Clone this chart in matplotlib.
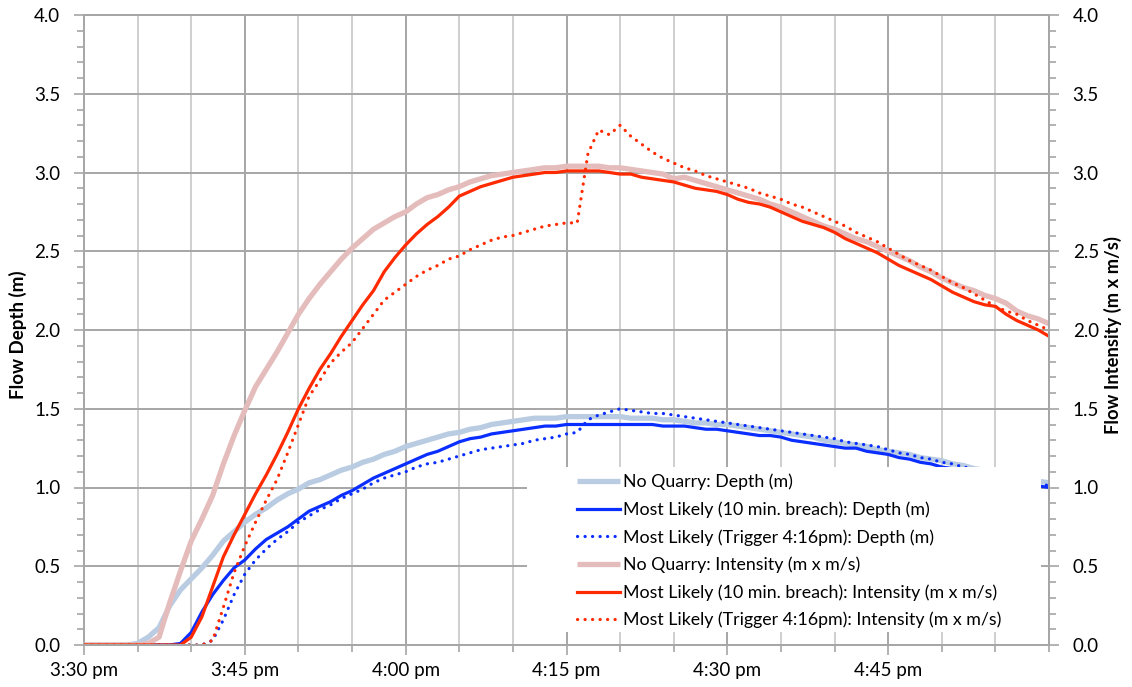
import matplotlib
matplotlib.use("Agg")
import matplotlib.pyplot as plt
from matplotlib.patches import Rectangle
from matplotlib.ticker import MultipleLocator, FixedLocator, FixedFormatter
import numpy as np

plt.rcParams['font.family'] = ['Lato', 'DejaVu Sans']

# minutes after 3:30 pm
minutes = list(range(0, 91))

nq_depth = [0, 0, 0, 0, 0, 0.01, 0.05, 0.11, 0.25, 0.35,
            0.42, 0.49, 0.57, 0.66, 0.72, 0.78, 0.83, 0.87, 0.92, 0.96,
            0.99, 1.03, 1.05, 1.08, 1.11, 1.13, 1.16, 1.18, 1.21, 1.23,
            1.26, 1.28, 1.30, 1.32, 1.34, 1.35, 1.37, 1.38, 1.40, 1.41,
            1.42, 1.43, 1.44, 1.44, 1.44, 1.45, 1.45, 1.45, 1.45, 1.45,
            1.45, 1.44, 1.44, 1.44, 1.43, 1.43, 1.42, 1.41, 1.41, 1.40,
            1.40, 1.39, 1.38, 1.37, 1.36, 1.35, 1.34, 1.33, 1.32, 1.30,
            1.29, 1.28, 1.27, 1.26, 1.24, 1.23, 1.22, 1.21, 1.19, 1.18,
            1.17, 1.15, 1.14, 1.12, 1.11, 1.10, 1.08, 1.07, 1.05, 1.04, 1.03]

ml10_depth = [0, 0, 0, 0, 0, 0, 0, 0, 0, 0.01,
              0.08, 0.21, 0.32, 0.41, 0.49, 0.54, 0.61, 0.67, 0.71, 0.75,
              0.80, 0.85, 0.88, 0.91, 0.95, 0.98, 1.02, 1.06, 1.09, 1.12,
              1.15, 1.18, 1.21, 1.23, 1.26, 1.29, 1.31, 1.32, 1.34, 1.35,
              1.36, 1.37, 1.38, 1.39, 1.39, 1.40, 1.40, 1.40, 1.40, 1.40,
              1.40, 1.40, 1.40, 1.40, 1.39, 1.39, 1.39, 1.38, 1.37, 1.37,
              1.36, 1.35, 1.34, 1.33, 1.33, 1.32, 1.30, 1.29, 1.28, 1.27,
              1.26, 1.25, 1.25, 1.23, 1.22, 1.21, 1.19, 1.18, 1.16, 1.15,
              1.13, 1.12, 1.11, 1.10, 1.08, 1.07, 1.06, 1.04, 1.03, 1.01, 1.00]

trig_depth = [0, 0, 0, 0, 0, 0, 0, 0, 0, 0,
              0, 0, 0.03, 0.16, 0.32, 0.45, 0.54, 0.61, 0.67, 0.72,
              0.78, 0.82, 0.86, 0.89, 0.93, 0.96, 0.99, 1.03, 1.06, 1.08,
              1.10, 1.13, 1.15, 1.16, 1.18, 1.20, 1.22, 1.24, 1.25, 1.26,
              1.27, 1.28, 1.30, 1.31, 1.32, 1.34, 1.35, 1.43, 1.46, 1.48,
              1.50, 1.49, 1.48, 1.47, 1.47, 1.46, 1.45, 1.44, 1.43, 1.42,
              1.41, 1.40, 1.39, 1.38, 1.37, 1.36, 1.35, 1.34, 1.33, 1.32,
              1.31, 1.29, 1.28, 1.27, 1.26, 1.24, 1.22, 1.21, 1.19, 1.18,
              1.16, 1.15, 1.13, 1.12, 1.11, 1.09, 1.07, 1.06, 1.04, 1.03, 1.01]

nq_int = [0, 0, 0, 0, 0, 0, 0.01, 0.05, 0.27, 0.47,
          0.66, 0.80, 0.95, 1.15, 1.33, 1.49, 1.64, 1.75, 1.86, 1.98,
          2.10, 2.20, 2.29, 2.37, 2.45, 2.52, 2.58, 2.64, 2.68, 2.72,
          2.75, 2.80, 2.84, 2.86, 2.89, 2.91, 2.94, 2.96, 2.98, 2.99,
          3.00, 3.01, 3.02, 3.03, 3.03, 3.04, 3.04, 3.04, 3.04, 3.03,
          3.03, 3.02, 3.01, 3.00, 2.99, 2.96, 2.97, 2.95, 2.93, 2.91,
          2.89, 2.87, 2.85, 2.83, 2.80, 2.78, 2.75, 2.72, 2.69, 2.66,
          2.64, 2.61, 2.58, 2.56, 2.53, 2.50, 2.47, 2.44, 2.40, 2.37,
          2.33, 2.30, 2.27, 2.25, 2.22, 2.20, 2.17, 2.12, 2.09, 2.07, 2.04]

ml10_int = [0, 0, 0, 0, 0, 0, 0, 0, 0, 0,
            0.05, 0.18, 0.37, 0.56, 0.70, 0.83, 0.96, 1.08, 1.21, 1.35,
            1.50, 1.63, 1.75, 1.85, 1.96, 2.06, 2.16, 2.25, 2.37, 2.46,
            2.54, 2.61, 2.67, 2.72, 2.78, 2.85, 2.88, 2.91, 2.93, 2.95,
            2.97, 2.98, 2.99, 3.00, 3.00, 3.01, 3.01, 3.01, 3.01, 3.00,
            2.99, 2.99, 2.97, 2.96, 2.95, 2.94, 2.92, 2.90, 2.89, 2.88,
            2.86, 2.83, 2.81, 2.80, 2.78, 2.75, 2.72, 2.69, 2.67, 2.65,
            2.62, 2.58, 2.55, 2.52, 2.49, 2.45, 2.41, 2.38, 2.35, 2.32,
            2.28, 2.24, 2.21, 2.18, 2.16, 2.15, 2.10, 2.06, 2.03, 2.00, 1.96]

trig_int = [0, 0, 0, 0, 0, 0, 0, 0, 0, 0,
            0, 0, 0.03, 0.24, 0.46, 0.63, 0.78, 0.92, 1.05, 1.22,
            1.40, 1.58, 1.68, 1.79, 1.86, 1.92, 2.01, 2.10, 2.19, 2.24,
            2.29, 2.34, 2.38, 2.41, 2.45, 2.47, 2.51, 2.54, 2.57, 2.59,
            2.60, 2.62, 2.64, 2.66, 2.67, 2.68, 2.68, 3.12, 3.27, 3.24,
            3.30, 3.23, 3.18, 3.13, 3.09, 3.06, 3.03, 3.01, 2.98, 2.96,
            2.94, 2.92, 2.90, 2.87, 2.85, 2.83, 2.80, 2.78, 2.75, 2.72,
            2.69, 2.66, 2.62, 2.59, 2.56, 2.52, 2.48, 2.44, 2.41, 2.38,
            2.34, 2.30, 2.27, 2.23, 2.19, 2.15, 2.12, 2.10, 2.06, 2.03, 2.00]

x_tick_minutes = [0, 15, 30, 45, 60, 75]
x_tick_labels = ["3:30 pm", "3:45 pm", "4:00 pm", "4:15 pm", "4:30 pm", "4:45 pm"]

labels = ["No Quarry: Depth (m)",
          "Most Likely (10 min. breach): Depth (m)",
          "Most Likely (Trigger 4:16pm): Depth (m)",
          "No Quarry: Intensity (m x m/s)",
          "Most Likely (10 min. breach): Intensity (m x m/s)",
          "Most Likely (Trigger 4:16pm): Intensity (m x m/s)"]

C_LBLUE = "#B9CCE2"
C_BLUE = "#0A2EFF"
C_PINK = "#E4BCBB"
C_RED = "#FF2A00"
GRID_MAJ = "#A6A6A6"
GRID_MIN = "#CFCFCF"
DOT = (0, (0.05, 2.3))

W, H = 1132, 687
fig = plt.figure(figsize=(W / 100, H / 100), dpi=100)
ax = fig.add_axes([84 / W, 1 - 645 / H, (1049 - 84) / W, (645 - 15) / H])
ax2 = ax.twinx()

ax.set_xlim(0, 90)
ax.set_ylim(0, 4)
ax2.set_ylim(0, 4)

# grid
for m in range(5, 90, 5):
    ax.axvline(m, color=GRID_MAJ if m % 15 == 0 else GRID_MIN, lw=1.4, zorder=0.5)
for v in np.arange(0.5, 4.0, 0.5):
    ax.axhline(v, color=GRID_MAJ, lw=1.4, zorder=0.5)

h1, = ax.plot(minutes, nq_depth, color=C_LBLUE, lw=3.8, solid_capstyle='butt', label=labels[0])
h2, = ax.plot(minutes, ml10_depth, color=C_BLUE, lw=2.3, label=labels[1])
h3, = ax.plot(minutes, trig_depth, color=C_BLUE, lw=2.3, linestyle=DOT,
              dash_capstyle='round', label=labels[2])
h4, = ax2.plot(minutes, nq_int, color=C_PINK, lw=3.8, solid_capstyle='butt', label=labels[3])
h5, = ax2.plot(minutes, ml10_int, color=C_RED, lw=2.3, label=labels[4])
h6, = ax2.plot(minutes, trig_int, color=C_RED, lw=2.3, linestyle=DOT,
               dash_capstyle='round', label=labels[5])

# ticks
ax.xaxis.set_major_locator(FixedLocator(x_tick_minutes))
ax.xaxis.set_major_formatter(FixedFormatter(x_tick_labels))
ax.xaxis.set_minor_locator(MultipleLocator(5))
for a in (ax, ax2):
    a.yaxis.set_major_locator(MultipleLocator(0.5))
    a.yaxis.set_minor_locator(MultipleLocator(0.1))
    a.yaxis.set_major_formatter(plt.FuncFormatter(lambda v, p: f"{v:.1f}"))
    a.tick_params(axis='y', which='major', length=7, width=1.2, color=GRID_MAJ,
                  labelsize=13.5, pad=10)
    a.tick_params(axis='y', which='minor', length=5, width=1.2, color=GRID_MAJ)
    for s in a.spines.values():
        s.set_color(GRID_MAJ)
        s.set_linewidth(1.4)
ax.tick_params(axis='x', which='major', length=7, width=1.2, color=GRID_MAJ,
               labelsize=13.5, pad=5)
ax.tick_params(axis='x', which='minor', length=5, width=1.2, color=GRID_MAJ)
ax2.spines['left'].set_visible(False)

fig.text(18 / W, 1 - 335 / H, "Flow Depth (m)", rotation=90, ha='center', va='center',
         fontsize=13.5, fontweight='bold')
fig.text(1113 / W, 1 - 335 / H, "Flow Intensity (m x m/s)", rotation=90, ha='center',
         va='center', fontsize=13.2, fontweight='bold')

# legend box
rect = Rectangle((527 / W, 1 - 632 / H), (1041 - 527) / W, (632 - 467) / H,
                 transform=fig.transFigure, facecolor='white', edgecolor='none', zorder=4)
fig.patches.append(rect)
leg = fig.legend(handles=[h1, h2, h3, h4, h5, h6], loc='upper left',
                 bbox_to_anchor=(568 / W, 1 - 465 / H), frameon=False, fontsize=12.8,
                 handlelength=2.4, handletextpad=0.17, labelspacing=0.62, borderpad=0)
leg.set_zorder(5)

fig.savefig("out.png", dpi=100)
